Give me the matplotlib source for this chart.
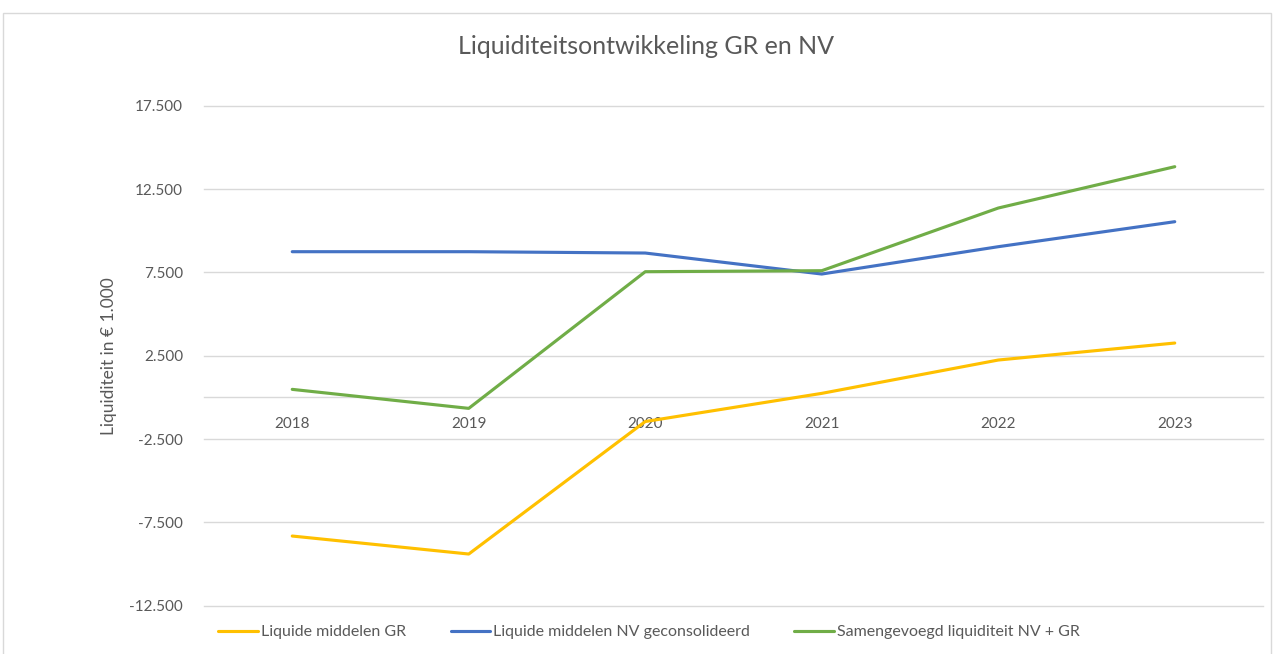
import matplotlib

matplotlib.use("Agg")
import matplotlib.pyplot as plt
from matplotlib.patches import Rectangle
from matplotlib.ticker import FuncFormatter

plt.rcParams["font.family"] = ["Lato", "DejaVu Sans"]

# data (in € 1.000)
YEARS = ["2018", "2019", "2020", "2021", "2022", "2023"]
GR = [-8320, -9400, -1450, 240, 2240, 3260]
NV = [8740, 8740, 8660, 7400, 9040, 10540]
COMBINED = [480, -660, 7540, 7600, 11360, 13840]

SERIES_LABELS = [
    "Liquide middelen GR",
    "Liquide middelen NV geconsolideerd",
    "Samengevoegd liquiditeit NV + GR",
]
COLORS = ["#FFC000", "#4472C4", "#70AD47"]
Y_TICKS = [-12500, -7500, -2500, 2500, 7500, 12500, 17500]

TEXT_GRAY = "#595959"
GRID_GRAY = "#D9D9D9"


def dutch_thousands(v, pos=None):
    return "{:,.0f}".format(v).replace(",", ".")


fig = plt.figure(figsize=(12.75, 6.54), dpi=100)
fig.patch.set_facecolor("white")

# chart-area frame
fig.patches.append(
    Rectangle((3 / 1275, -0.01), 1268 / 1275, 1 - 13 / 654 + 0.01,
              transform=fig.transFigure, fill=False,
              edgecolor=GRID_GRAY, linewidth=1.0, zorder=0)
)

ax = fig.add_axes([204 / 1275, 1 - 605.7 / 654, (1263 - 204) / 1275, 500 / 654])

x = range(len(YEARS))
for values, label, color in zip([GR, NV, COMBINED], SERIES_LABELS, COLORS):
    ax.plot(x, values, color=color, linewidth=2.25, label=label,
            solid_capstyle="round", solid_joinstyle="round", zorder=3)

ax.set_xlim(-0.5, len(YEARS) - 0.5)
ax.set_ylim(-12500, 17500)
ax.set_yticks(Y_TICKS)
ax.yaxis.set_major_formatter(FuncFormatter(dutch_thousands))
ax.set_xticks(list(x))
ax.set_xticklabels(YEARS)

ax.grid(axis="y", color=GRID_GRAY, linewidth=1.0, zorder=0)
for gl in ax.yaxis.get_gridlines():
    gl.set_clip_on(False)
for side in ("top", "right", "left"):
    ax.spines[side].set_visible(False)
ax.spines["bottom"].set_position(("data", 0))
ax.spines["bottom"].set_color(GRID_GRAY)
ax.spines["bottom"].set_linewidth(1.0)

ax.tick_params(axis="both", length=0, labelsize=11, colors=TEXT_GRAY)
ax.tick_params(axis="y", pad=15)
ax.tick_params(axis="x", pad=14)

ax.set_ylabel("Liquiditeit in € 1.000", fontsize=12.5, color=TEXT_GRAY)
ax.yaxis.set_label_coords((117 - 204) / 1059, 0.5)

fig.text(646 / 1275, 1 - 46 / 654, "Liquiditeitsontwikkeling GR en NV",
         ha="center", va="center", fontsize=18, color=TEXT_GRAY)

fig.legend(loc="center", bbox_to_anchor=(649 / 1275, 1 - 632 / 654), ncol=3,
           frameon=False, fontsize=11.5, labelcolor=TEXT_GRAY,
           handlelength=2.5, handletextpad=0.15, columnspacing=2.8)

fig.savefig("out.png", dpi=100, facecolor=fig.get_facecolor())
plt.close(fig)
